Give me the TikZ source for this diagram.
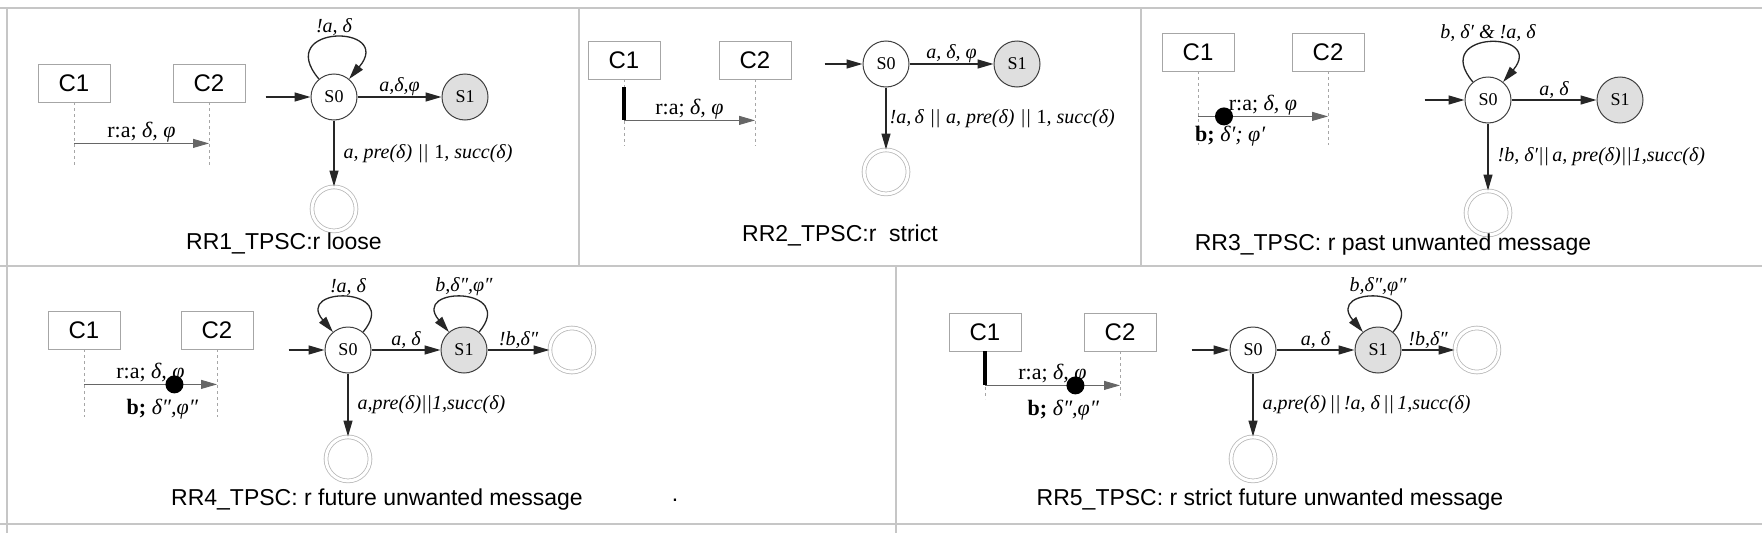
\documentclass[tikz,border=0pt]{standalone}
\usepackage{fontspec}
\setmainfont{Liberation Serif}
\setsansfont{Liberation Sans}
\usetikzlibrary{arrows.meta, positioning, calc}

\begin{document}
\begin{tikzpicture}[
			x=1pt, y=1pt,
			every node/.style={inner sep=1pt},
			comp/.style={rectangle, draw=gray!70, line width=0.8pt, minimum width=72pt, minimum height=38pt, font=\sffamily\fontsize{24}{24}\selectfont},
			loc/.style={circle, draw=black!75, line width=1pt, minimum size=46pt, inner sep=0pt, font=\fontsize{18}{18}\selectfont},
			cur/.style={loc, fill=gray!25},
			acc/.style={circle, draw=gray!55, double=white, double distance=3pt, line width=0.8pt, minimum size=44pt},
			life/.style={draw=gray!70, dashed, line width=0.8pt},
			bar/.style={line width=4pt},
			dot/.style={circle, fill=black, inner sep=0pt, minimum size=18pt},
			msgline/.style={->, draw=black!60, line width=0.9pt},
			tr/.style={->, draw=black!85, line width=1.3pt},
			lbl/.style={font=\itshape\fontsize{20}{20}\selectfont},
			down/.style={lbl, right=8pt},
			msg/.style={font=\fontsize{22}{22}\selectfont},
			ttl/.style={font=\sffamily\fontsize{23}{23}\selectfont},
			rule/.style={draw=gray!45, line width=2pt},
			>={Triangle[length=16pt, width=9pt]}
			]
			\path[fill=white, use as bounding box] (0,0) rectangle (1762,-533);
			
			% Table
			\draw[rule] (0,-8) -- (1762,-8);
			\draw[rule] (0,-266) -- (1762,-266);
			\draw[rule] (0,-524) -- (1762,-524);
			\draw[rule] (7,-8) -- (7,-533);
			\draw[rule] (579,-8) -- (579,-266);
			\draw[rule] (1141,-8) -- (1141,-266);
			\draw[rule] (896,-266) -- (896,-533);
			
			% RR1
			\node[comp] (c1a) at (74,-83) {C1};
			\node[comp] (c2a) at (209,-83) {C2};
			\coordinate[below=64pt of c1a.south] (e1a);
			\coordinate[below=64pt of c2a.south] (e2a);
			\coordinate[below=41pt of c1a.south] (m1a);
			\coordinate[below=41pt of c2a.south] (m2a);
			\draw[life] (c1a) -- (e1a);
			\draw[life] (c2a) -- (e2a);
			\draw[msgline] (m1a) -- node[above, msg] {r:a; \textit{δ, φ}} (m2a);
			
			\node[loc] (s0a) at (334,-97) {S0};
			\node[cur, right=84pt of s0a] (s1a) {S1};
			\node[acc, below=66pt of s0a] (fa) {};
			\coordinate[left=45pt of s0a] (ia);
			\draw[tr] (ia) -- (s0a);
			\draw[tr] (s0a.130) .. controls +(130:72pt) and +(50:72pt) .. node[above, lbl] {!a, δ} (s0a.50);
			\draw[tr] (s0a) -- node[above, lbl] {a,δ,φ} (s1a);
			\draw[tr] (s0a) -- node[down] {a, pre(δ)\;||\;\textup{1}, succ(δ)} (fa);
			\node[ttl] (t1) at (284,-243) {RR1\_TPSC:r loose};
			
			% RR2
			\node[comp] (c1b) at (624,-60) {C1};
			\node[comp] (c2b) at (755,-60) {C2};
			\coordinate[below=67pt of c1b.south] (e1b);
			\coordinate[below=67pt of c2b.south] (e2b);
			\coordinate[below=41pt of c1b.south] (m1b);
			\coordinate[below=41pt of c2b.south] (m2b);
			\coordinate[below=8pt of c1b.south] (k1b);
			\draw[life] (c1b) -- (e1b);
			\draw[life] (c2b) -- (e2b);
			\draw[bar] (k1b) -- (m1b);
			\draw[msgline] (m1b) -- node[above, msg] {r:a; \textit{δ, φ}} (m2b);
			
			\node[loc] (s0b) at (886,-64) {S0};
			\node[cur, right=84pt of s0b] (s1b) {S1};
			\node[acc, below=62pt of s0b] (fb) {};
			\coordinate[left=38pt of s0b] (ib);
			\draw[tr] (ib) -- (s0b);
			\draw[tr] (s0b) -- node[above, lbl] {a, δ, φ} (s1b);
			\draw[tr] (s0b) -- node[lbl, right=2pt] {!a,\,δ\;||\;a, pre(δ)\;||\;\textup{1}, succ(δ)} (fb);
			\node[ttl] (t2) at (840,-235) {RR2\_TPSC:r \ strict};
			
			% RR3
			\node[comp] (c1c) at (1198,-52) {C1};
			\node[comp] (c2c) at (1328,-52) {C2};
			\coordinate[below=74pt of c1c.south] (e1c);
			\coordinate[below=74pt of c2c.south] (e2c);
			\coordinate[below=45pt of c1c.south] (m1c);
			\coordinate[below=45pt of c2c.south] (m2c);
			\draw[life] (c1c) -- (e1c);
			\draw[life] (c2c) -- (e2c);
			\draw[msgline] (m1c) -- node[above, msg] {r:a; \textit{δ, φ}} (m2c);
			\node[dot] (dc) at ($(m1c)!0.2!(m2c)$) {};
			\node[msg, below right=9pt and -4pt of m1c] (bc) {\textbf{b;} \textit{δ′; φ′}};
			
			\node[loc] (s0c) at (1488,-100) {S0};
			\node[cur, right=85pt of s0c] (s1c) {S1};
			\node[acc, below=67pt of s0c] (fc) {};
			\coordinate[left=40pt of s0c] (ic);
			\draw[tr] (ic) -- (s0c);
			\draw[tr] (s0c.130) .. controls +(130:68pt) and +(50:68pt) .. node[above, lbl] {b, δ′ \& !a, δ} (s0c.50);
			\draw[tr] (s0c) -- node[above, lbl] {a, δ} (s1c);
			\draw[tr] (s0c) -- node[down] {!b, δ′||\,a, pre(δ)||1,succ(δ)} (fc);
			\node[ttl] (t3) at (1393,-245) {RR3\_TPSC: r past unwanted message};
			
			% RR4
			\node[comp] (c1d) at (84,-330) {C1};
			\node[comp] (c2d) at (217,-330) {C2};
			\coordinate[below=68pt of c1d.south] (e1d);
			\coordinate[below=68pt of c2d.south] (e2d);
			\coordinate[below=35pt of c1d.south] (m1d);
			\coordinate[below=35pt of c2d.south] (m2d);
			\draw[life] (c1d) -- (e1d);
			\draw[life] (c2d) -- (e2d);
			\draw[msgline] (m1d) -- node[above, msg] {r:a; \textit{δ, φ}} (m2d);
			\node[dot] (dd) at ($(m1d)!0.68!(m2d)$) {};
			\node[msg, below=4pt of dd, xshift=-12pt] (bd) {\textbf{b;} \textit{δ″,φ″}};
			
			\node[loc] (s0d) at (348,-350) {S0};
			\node[cur, right=69pt of s0d] (s1d) {S1};
			\node[acc, right=62pt of s1d] (gd) {};
			\node[acc, below=63pt of s0d] (fd) {};
			\coordinate[left=36pt of s0d] (id);
			\draw[tr] (id) -- (s0d);
			\draw[tr] (s0d.50) .. controls +(50:60pt) and +(130:60pt) .. node[above, lbl] {!a, δ} (s0d.130);
			\draw[tr] (s1d.50) .. controls +(50:60pt) and +(130:60pt) .. node[above, lbl] {b,δ″,φ″} (s1d.130);
			\draw[tr] (s0d) -- node[above, lbl] {a, δ} (s1d);
			\draw[tr] (s1d) -- node[above, lbl] {!b,δ″} (gd);
			\draw[tr] (s0d) -- node[down] {a,pre(δ)||1,succ(δ)} (fd);
			\node[ttl] (t4) at (377,-500) {RR4\_TPSC: r future unwanted message};
			\node[ttl] (p4) at (675,-500) {.};
			
			% RR5
			\node[comp] (c1e) at (985,-332) {C1};
			\node[comp] (c2e) at (1120,-332) {C2};
			\coordinate[below=48pt of c1e.south] (e1e);
			\coordinate[below=48pt of c2e.south] (e2e);
			\coordinate[below=34pt of c1e.south] (m1e);
			\coordinate[below=34pt of c2e.south] (m2e);
			\draw[life] (c1e) -- (e1e);
			\draw[life] (c2e) -- (e2e);
			\draw[bar] (c1e.south) -- (m1e);
			\draw[msgline] (m1e) -- node[above, msg] {r:a; \textit{δ, φ}} (m2e);
			\node[dot] (de) at ($(m1e)!0.67!(m2e)$) {};
			\node[msg, below=4pt of de, xshift=-12pt] (be) {\textbf{b;} \textit{δ″,φ″}};
			
			\node[loc] (s0e) at (1253,-350) {S0};
			\node[cur, right=78pt of s0e] (s1e) {S1};
			\node[acc, right=53pt of s1e] (ge) {};
			\node[acc, below=63pt of s0e] (fe) {};
			\coordinate[left=38pt of s0e] (ie);
			\draw[tr] (ie) -- (s0e);
			\draw[tr] (s1e.50) .. controls +(50:60pt) and +(130:60pt) .. node[above, lbl] {b,δ″,φ″} (s1e.130);
			\draw[tr] (s0e) -- node[above, lbl] {a, δ} (s1e);
			\draw[tr] (s1e) -- node[above, lbl] {!b,δ″} (ge);
			\draw[tr] (s0e) -- node[down] {a,pre(δ)\,||\,!a, δ\,||\,1,succ(δ)} (fe);
			\node[ttl] (t5) at (1270,-500) {RR5\_TPSC: r strict future unwanted message};
		\end{tikzpicture}
\end{document}
